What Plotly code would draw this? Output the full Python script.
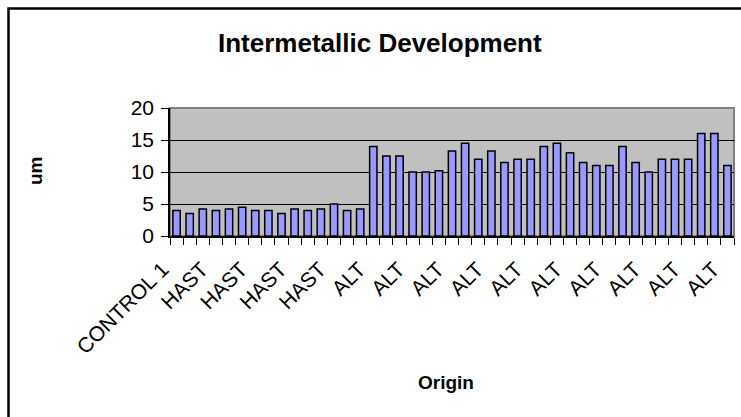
import plotly.graph_objects as go

# Sample origins, one per bar
categories = ["CONTROL 1"] + ["HAST"] * 14 + ["ALT"] * 28

# Intermetallic thickness (um)
thickness = [
    4.0, 3.5, 4.2, 4.0, 4.2, 4.5, 4.0, 4.0, 3.5, 4.2, 4.0, 4.2, 5.0, 4.0, 4.2,
    14.0, 12.5, 12.5, 10.0, 10.0, 10.2, 13.3, 14.5, 12.0, 13.3, 11.5, 12.0, 12.0,
    14.0, 14.5, 13.0, 11.5, 11.0, 11.0, 14.0, 11.5, 10.0, 12.0, 12.0, 12.0,
    16.0, 16.0, 11.0,
]

y_ticks = [0, 5, 10, 15, 20]

FONT = "Arial, Liberation Sans, sans-serif"
W, H = 741, 417
L, R, T, B = 170, 7, 108, 181
pw, ph = W - L - R, H - T - B

def px_x(px):
    return (px - L) / pw

def px_y(py):
    return (H - B - py) / ph

positions = list(range(1, len(categories) + 1))
label_step = 3
tick_pos = positions[::label_step]
tick_txt = categories[::label_step]

fig = go.Figure(
    go.Bar(
        x=positions,
        y=thickness,
        marker=dict(color="#9999FF", line=dict(color="black", width=1.5)),
        hoverinfo="y",
    )
)

fig.update_layout(
    width=W,
    height=H,
    margin=dict(l=L, r=R, t=T, b=B),
    paper_bgcolor="white",
    plot_bgcolor="#C0C0C0",
    bargap=0.44,
    showlegend=False,
    font=dict(family=FONT, color="black", size=21),
)

fig.update_xaxes(
    range=[0.5, len(categories) + 0.5],
    tickmode="array",
    tickvals=tick_pos,
    ticktext=tick_txt,
    tickangle=-45,
    ticks="",
    tickfont=dict(size=21),
    ticklabelshift=-14,
    ticklabelstandoff=11,
    showgrid=False,
    zeroline=False,
    showline=True,
    linecolor="black",
    linewidth=1.5,
    minor=dict(tick0=0.5, dtick=1, ticks="outside", ticklen=7,
               tickcolor="black", tickwidth=1.2, showgrid=False),
)

fig.update_yaxes(
    range=[0, 20],
    tickmode="array",
    tickvals=y_ticks,
    ticks="outside",
    ticklen=7,
    tickcolor="black",
    tickwidth=1.2,
    tickfont=dict(size=21),
    ticklabelstandoff=3,
    showgrid=True,
    gridcolor="black",
    gridwidth=1,
    zeroline=False,
    showline=True,
    linecolor="black",
    linewidth=1.5,
)

# Plot-area frame (top/right in grey) and outer chart border
fig.add_shape(type="rect", xref="paper", yref="paper", x0=0, x1=1, y0=0, y1=1,
              line=dict(color="#808080", width=2), layer="below")
fig.add_shape(type="rect", xref="paper", yref="paper",
              x0=px_x(8.5), x1=px_x(760), y0=px_y(8.5), y1=px_y(440),
              line=dict(color="black", width=2.5))

fig.add_annotation(text="<b>Intermetallic Development</b>", xref="paper", yref="paper",
                   x=px_x(379.5), y=px_y(43), xanchor="center", yanchor="middle",
                   showarrow=False, font=dict(size=26, family=FONT))
fig.add_annotation(text="<b>Origin</b>", xref="paper", yref="paper",
                   x=px_x(446), y=px_y(382), xanchor="center", yanchor="middle",
                   showarrow=False, font=dict(size=19, family=FONT))
fig.add_annotation(text="<b>um</b>", xref="paper", yref="paper",
                   x=px_x(35), y=px_y(171), xanchor="center", yanchor="middle",
                   textangle=-90, showarrow=False, font=dict(size=19, family=FONT))

fig.write_html("out.html")
